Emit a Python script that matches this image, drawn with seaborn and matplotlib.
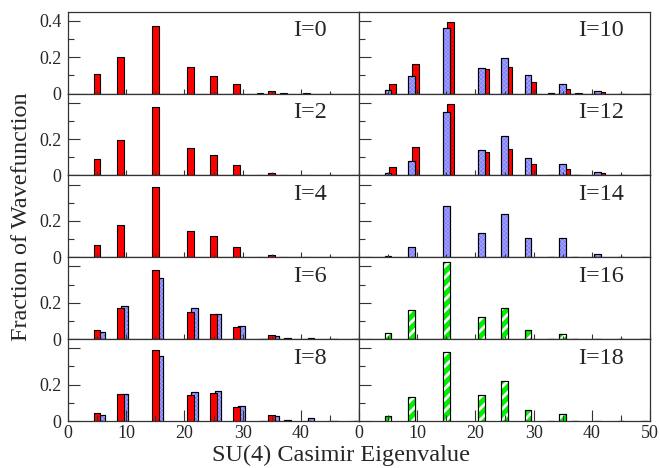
import matplotlib
matplotlib.use('Agg')
import matplotlib.pyplot as plt
import seaborn as sns
from matplotlib.ticker import MultipleLocator

# --- data: SU(4) Casimir eigenvalues and wavefunction fractions ---
casimir = [5, 9, 15, 21, 25, 29, 33, 35, 37, 41, 45, 49]

i0_red = [0.110, 0.202, 0.369, 0.147, 0.099, 0.051, 0.002, 0.015, 0.002, 0.003, 0, 0]
i2_red = [0.092, 0.193, 0.376, 0.150, 0.110, 0.055, 0.002, 0.015, 0.001, 0.002, 0, 0]
i4_red = [0.070, 0.176, 0.385, 0.147, 0.117, 0.057, 0.001, 0.015, 0, 0.001, 0, 0]
i6_red = [0.051, 0.171, 0.382, 0.150, 0.138, 0.068, 0.002, 0.022, 0.002, 0.002, 0, 0]
i6_blue = [0.042, 0.183, 0.338, 0.172, 0.139, 0.073, 0, 0.016, 0.005, 0.008, 0, 0]
i8_red = [0.044, 0.149, 0.389, 0.145, 0.154, 0.077, 0.002, 0.031, 0.002, 0.002, 0, 0]
i8_blue = [0.031, 0.149, 0.358, 0.160, 0.165, 0.084, 0, 0.026, 0.007, 0.015, 0, 0]
i10_blue = [0.018, 0.097, 0.363, 0.143, 0.194, 0.103, 0.001, 0.053, 0, 0.015, 0, 0]
i10_red = [0.053, 0.163, 0.396, 0.134, 0.145, 0.062, 0, 0.026, 0.002, 0.009, 0, 0]
i12_blue = [0.013, 0.081, 0.350, 0.138, 0.218, 0.097, 0, 0.062, 0, 0.018, 0.001, 0]
i12_red = [0.048, 0.156, 0.393, 0.130, 0.147, 0.062, 0, 0.037, 0.002, 0.013, 0, 0]
i14_blue = [0.007, 0.059, 0.283, 0.132, 0.240, 0.108, 0, 0.105, 0.003, 0.018, 0.004, 0.004]
i16_green = [0.033, 0.160, 0.426, 0.123, 0.169, 0.051, 0, 0.026, 0, 0.001, 0, 0.001]
i18_green = [0.028, 0.132, 0.382, 0.143, 0.218, 0.059, 0, 0.037, 0, 0, 0, 0]

labels_left = ['I=0', 'I=2', 'I=4', 'I=6', 'I=8']
labels_right = ['I=10', 'I=12', 'I=14', 'I=16', 'I=18']

RED = '#ff0000'
BLUE = '#8080ff'
GREEN = '#00f000'
OFFSET = 0.75
BAR_W = 0.575  # relative to the 2-unit spacing of the eigenvalues

sns.set_style('ticks')
plt.rcParams['font.family'] = ['Liberation Serif', 'DejaVu Serif']


def draw_series(ax, vals, style, shift=0.0):
    x = [c + shift for c in casimir]
    face = {'red': RED, 'blue': BLUE, 'green': GREEN}[style]
    sns.barplot(x=x, y=vals, native_scale=True, width=BAR_W, color=face,
                saturation=1, edgecolor='black', linewidth=0.8,
                errorbar=None, ax=ax)
    if style == 'red':
        return
    hatch, hcol, hlw = ('///', 'white', 2.0) if style == 'green' else ('xxxxxxxx', '#b4b4ff', 0.35)
    n0 = len(ax.patches)
    with plt.rc_context({'hatch.linewidth': hlw}):
        sns.barplot(x=x, y=vals, native_scale=True, width=BAR_W, color=hcol,
                    fill=False, linewidth=0, errorbar=None, ax=ax)
        for p in ax.patches[n0:]:
            p.set_hatch(hatch)
            try:
                p.set_hatch_linewidth(hlw)
            except AttributeError:
                pass
    # outline on top of the hatching
    sns.barplot(x=x, y=vals, native_scale=True, width=BAR_W, color='black',
                fill=False, linewidth=0.8, errorbar=None, ax=ax)


fig, axes = plt.subplots(5, 2, figsize=(6.6, 4.68), dpi=100)
fig.subplots_adjust(left=0.103, right=0.985, top=0.975, bottom=0.1004,
                    hspace=0, wspace=0)

panels_left = [
    [(i0_red, 'red', 0)],
    [(i2_red, 'red', 0)],
    [(i4_red, 'red', 0)],
    [(i6_blue, 'blue', OFFSET), (i6_red, 'red', 0)],
    [(i8_blue, 'blue', OFFSET), (i8_red, 'red', 0)],
]
panels_right = [
    [(i10_red, 'red', OFFSET), (i10_blue, 'blue', 0)],
    [(i12_red, 'red', OFFSET), (i12_blue, 'blue', 0)],
    [(i14_blue, 'blue', 0)],
    [(i16_green, 'green', 0)],
    [(i18_green, 'green', 0)],
]

for col, (panels, labels) in enumerate([(panels_left, labels_left),
                                        (panels_right, labels_right)]):
    for row in range(5):
        ax = axes[row, col]
        for vals, style, shift in panels[row]:
            draw_series(ax, vals, style, shift)
        ax.set_xlim(0, 50)
        ax.set_ylim(0, 0.45)
        ax.set_xlabel('')
        ax.set_ylabel('')
        ax.set_axisbelow(False)
        ax.xaxis.set_minor_locator(MultipleLocator(5))
        ax.yaxis.set_minor_locator(MultipleLocator(0.1))
        ax.set_xticks([0, 10, 20, 30, 40, 50])
        ax.set_yticks([0, 0.2, 0.4])
        for s in ax.spines.values():
            s.set_visible(True)
            s.set_linewidth(0.9)
            s.set_color('#333333')
        ax.tick_params(which='both', direction='in', top=False, right=False,
                       labelsize=13, color='#333333', width=0.8)
        ax.tick_params(axis='y', which='major', length=8.6, pad=4.5)
        ax.tick_params(axis='y', which='minor', length=4.6)
        xl = 8.0 if row == 4 else 3.8
        ax.tick_params(axis='x', which='major', length=xl, pad=3)
        ax.tick_params(axis='x', which='minor', length=xl / 2)

        if row == 4:
            xt = ['0', '10', '20', '30', '40', '50' if col == 1 else '']
            ax.set_xticklabels(xt)
        else:
            ax.set_xticklabels([])
        if col == 0:
            ax.set_yticklabels(['0', '0.2', '0.4' if row == 0 else ''])
        else:
            ax.set_yticklabels([])

        tx = 0.772 if col == 0 else 0.752
        ax.text(tx, 0.70, labels[row], transform=ax.transAxes, ha='left',
                va='baseline', fontsize=17.5)

fig.text(0.517, 0.014, 'SU(4) Casimir Eigenvalue', ha='center',
         va='baseline', fontsize=17.5)
fig.text(0.033, 0.538, 'Fraction of Wavefunction', rotation=90,
         ha='center', va='center', fontsize=17.5)

fig.savefig('out.png', dpi=100)
